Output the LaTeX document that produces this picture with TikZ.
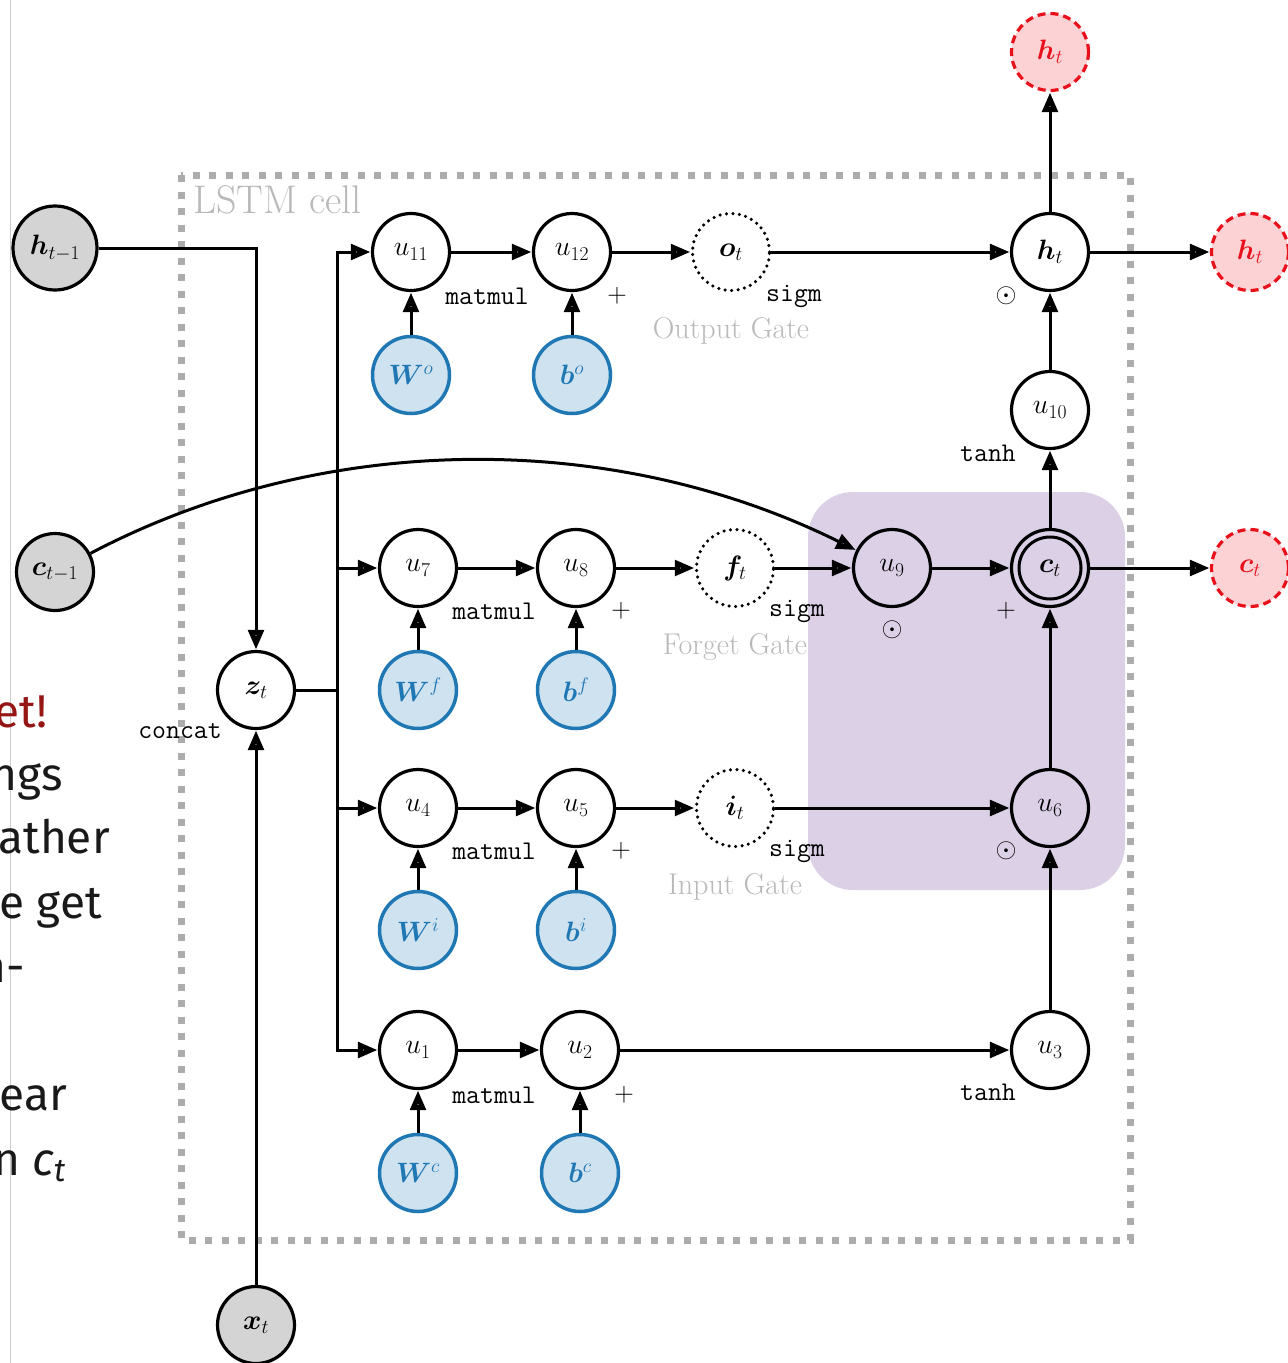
\RequirePackage{fix-cm}
\documentclass[tikz,border=0pt]{standalone}
\usepackage{fontspec}
\usepackage{amsmath,bm}
\usetikzlibrary{arrows.meta,backgrounds}
\newfontfamily\slidefont{Fira Sans}
\definecolor{pblue}{RGB}{31,119,180}
\definecolor{lblue}{RGB}{207,226,240}
\definecolor{ored}{RGB}{232,16,26}
\definecolor{opink}{RGB}{252,210,212}
\definecolor{ingray}{RGB}{212,212,212}
\definecolor{boxgray}{RGB}{172,172,172}
\definecolor{txtgray}{RGB}{185,185,185}
\definecolor{purp}{RGB}{220,208,230}
\definecolor{slidered}{RGB}{150,22,22}
\begin{document}
\begin{tikzpicture}[x=1pt,y=-1pt,
  every node/.style={font=\fontsize{28}{32}\selectfont},
  op/.style={circle,draw,line width=3.2pt,minimum size=77pt,inner sep=0pt},
  inp/.style={op,fill=ingray},
  prm/.style={op,draw=pblue,fill=lblue,text=pblue,line width=3.5pt},
  outn/.style={op,draw=ored,fill=opink,text=ored,dash pattern=on 8pt off 5pt},
  gate/.style={op,dash pattern=on 0pt off 6.5pt,line cap=round,line width=3.5pt},
  ln/.style={line width=3pt},
  arr/.style={line width=3pt,-{Triangle[open,length=20pt,width=15pt,line width=6pt]}},
  lbl/.style={font=\fontsize{27}{32}\selectfont\ttfamily},
  opl/.style={font=\fontsize{27}{32}\selectfont},
  gatel/.style={font=\fontsize{30}{34}\selectfont,text=txtgray},
  slide/.style={font=\fontsize{46}{50}\selectfont\slidefont,anchor=base east,inner sep=0pt}
]
\useasboundingbox (0,0) rectangle (1288,1363);
\fill[white] (0,0) rectangle (1288,1363);
% slide remnants
\draw[black!20,line width=1pt] (10,0) -- (10,1363);
\node[slide,text=slidered] (s1) at (48,727) {et!};
\node[slide,text=black!90] (s2) at (63,790) {ngs};
\node[slide,text=black!90] (s3) at (110,853) {ather};
\node[slide,text=black!90] (s4) at (102,918) {e get};
\node[slide,text=black!90] (s5) at (25,982) {n-};
\node[slide,text=black!90] (s6) at (67,1110) {ear};
\node[slide,text=black!90] (s7) at (66,1175) {n {\itshape c}\textsubscript{\itshape t}};

% LSTM cell box and purple region
\draw[boxgray,line width=7pt,dash pattern=on 7pt off 9.5pt] (181,175) rectangle (1130,1240);
\node[anchor=base west,font=\fontsize{40}{44}\selectfont,text=txtgray,inner sep=0pt] (cell) at (193,213) {LSTM cell};
\fill[purp,rounded corners=45pt] (808,492) rectangle (1125,890);

% nodes
\node[inp,minimum size=84pt] (hm1) at (55,248) {$\bm{h}_{t-1}$};
\node[inp] (cm1) at (55,572) {$\bm{c}_{t-1}$};
\node[inp] (xt) at (256,1325) {$\bm{x}_t$};
\node[op] (zt) at (256,690) {$\bm{z}_t$};

\node[op] (u11) at (411,252) {$u_{11}$};
\node[op] (u12) at (572,252) {$u_{12}$};
\node[gate] (ot) at (731,252) {$\bm{o}_t$};
\node[op] (ht) at (1050,252) {$\bm{h}_t$};
\node[outn] (htr) at (1250,252) {$\bm{h}_t$};
\node[outn] (htu) at (1050,52) {$\bm{h}_t$};
\node[prm] (Wo) at (411,375) {$\bm{W}^o$};
\node[prm] (bo) at (572,375) {$\bm{b}^o$};
\node[op] (u10) at (1050,410) {$u_{10}$};

\node[op] (u7) at (418,568) {$u_7$};
\node[op] (u8) at (576,568) {$u_8$};
\node[gate] (ft) at (735,568) {$\bm{f}_t$};
\node[op] (u9) at (892,568) {$u_9$};
\node[op] (ct) at (1050,568) {$\bm{c}_t$};
\draw[line width=3pt] (ct.center) circle (31pt);
\node[outn] (ctr) at (1250,568) {$\bm{c}_t$};
\node[prm] (Wf) at (418,690) {$\bm{W}^f$};
\node[prm] (bf) at (576,690) {$\bm{b}^f$};

\node[op] (u4) at (418,808) {$u_4$};
\node[op] (u5) at (576,808) {$u_5$};
\node[gate] (it) at (735,808) {$\bm{i}_t$};
\node[op] (u6) at (1050,808) {$u_6$};
\node[prm] (Wi) at (418,930) {$\bm{W}^i$};
\node[prm] (bi) at (576,930) {$\bm{b}^i$};

\node[op] (u1) at (418,1050) {$u_1$};
\node[op] (u2) at (580,1050) {$u_2$};
\node[op] (u3) at (1050,1050) {$u_3$};
\node[prm] (Wc) at (418,1173) {$\bm{W}^c$};
\node[prm] (bc) at (580,1173) {$\bm{b}^c$};

% labels
\node[lbl] (l1) at (180,731) {concat};
\node[lbl] (m1) at (487,296) {matmul};
\node[lbl] (m2) at (494,611) {matmul};
\node[lbl] (m3) at (494,851) {matmul};
\node[lbl] (m4) at (494,1095) {matmul};
\node[opl] (p1) at (617,296) {$+$};
\node[opl] (p2) at (621,611) {$+$};
\node[opl] (p3) at (621,851) {$+$};
\node[opl] (p4) at (624,1095) {$+$};
\node[lbl] (g1) at (794,296) {sigm};
\node[lbl] (g2) at (797,611) {sigm};
\node[lbl] (g3) at (797,851) {sigm};
\node[gatel] (n1) at (731,331) {Output Gate};
\node[gatel] (n2) at (735,647) {Forget Gate};
\node[gatel] (n3) at (735,887) {Input Gate};
\node[opl] (d1) at (1006,296) {$\odot$};
\node[opl] (d2) at (892,630) {$\odot$};
\node[opl] (d3) at (1006,851) {$\odot$};
\node[opl] (p5) at (1006,611) {$+$};
\node[lbl] (t1) at (988,453) {tanh};
\node[lbl] (t2) at (988,1092) {tanh};

% connectors
\coordinate (bus) at (337,690);
\coordinate (b7) at (337,568);
\coordinate (b4) at (337,808);
\draw[arr] (hm1) -| (zt);
\draw[arr] (xt) -- (zt);
\draw[ln] (zt) -- (bus);
\draw[arr] (bus) |- (u11);
\draw[arr] (bus) |- (u1);
\draw[arr] (b7) -- (u7);
\draw[arr] (b4) -- (u4);

\draw[arr] (u11) -- (u12);
\draw[arr] (u12) -- (ot);
\draw[arr] (ot) -- (ht);
\draw[arr] (Wo) -- (u11);
\draw[arr] (bo) -- (u12);
\draw[arr] (ht) -- (htr);
\draw[arr] (ht) -- (htu);
\draw[arr] (u10) -- (ht);
\draw[arr] (ct) -- (u10);

\draw[arr] (u7) -- (u8);
\draw[arr] (u8) -- (ft);
\draw[arr] (ft) -- (u9);
\draw[arr] (u9) -- (ct);
\draw[arr] (ct) -- (ctr);
\draw[arr] (Wf) -- (u7);
\draw[arr] (bf) -- (u8);
\draw[arr] (cm1) .. controls (325,430) and (614,430) .. (u9);

\draw[arr] (u4) -- (u5);
\draw[arr] (u5) -- (it);
\draw[arr] (it) -- (u6);
\draw[arr] (u6) -- (ct);
\draw[arr] (Wi) -- (u4);
\draw[arr] (bi) -- (u5);

\draw[arr] (u1) -- (u2);
\draw[arr] (u2) -- (u3);
\draw[arr] (u3) -- (u6);
\draw[arr] (Wc) -- (u1);
\draw[arr] (bc) -- (u2);
\end{tikzpicture}
\end{document}
